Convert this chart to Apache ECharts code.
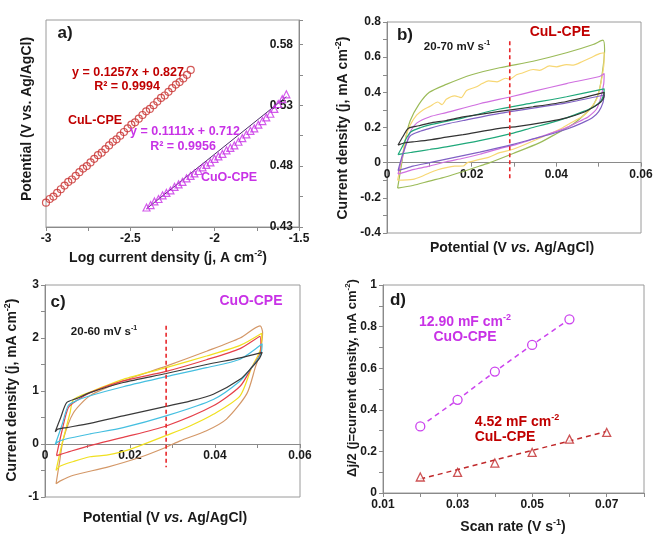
<!DOCTYPE html>
<html><head><meta charset="utf-8">
<script src="https://cdn.jsdelivr.net/npm/echarts@6/dist/echarts.min.js"></script>
<style>html,body{margin:0;padding:0;background:#fff}#c{width:669px;height:545px}</style>
</head><body><div id="c"></div>
<script>
// ---------- Panel a: Tafel plots ----------
const aCuLX = [-3.000,-2.978,-2.956,-2.934,-2.912,-2.890,-2.868,-2.846,-2.824,-2.802,-2.780,-2.758,-2.736,-2.714,-2.692,-2.670,-2.648,-2.626,-2.604,-2.582,-2.560,-2.538,-2.516,-2.494,-2.472,-2.450,-2.428,-2.406,-2.384,-2.362,-2.340,-2.318,-2.296,-2.274,-2.252,-2.230,-2.208,-2.186,-2.164,-2.142];
const aCuLY = [0.450,0.453,0.455,0.458,0.461,0.464,0.467,0.469,0.472,0.475,0.478,0.480,0.483,0.486,0.489,0.491,0.494,0.497,0.500,0.502,0.505,0.508,0.511,0.514,0.516,0.519,0.522,0.525,0.527,0.530,0.533,0.536,0.538,0.541,0.544,0.547,0.549,0.552,0.555,0.559];
const aCuOX = [-2.404,-2.380,-2.357,-2.333,-2.309,-2.286,-2.262,-2.238,-2.214,-2.191,-2.167,-2.143,-2.120,-2.096,-2.072,-2.049,-2.025,-2.001,-1.978,-1.954,-1.930,-1.907,-1.883,-1.859,-1.836,-1.812,-1.788,-1.765,-1.741,-1.717,-1.694,-1.670,-1.646,-1.623,-1.599,-1.575];
const aCuOY = [0.446,0.448,0.451,0.453,0.456,0.458,0.460,0.463,0.465,0.467,0.470,0.472,0.474,0.476,0.479,0.481,0.483,0.486,0.488,0.490,0.493,0.495,0.497,0.500,0.503,0.506,0.509,0.511,0.514,0.517,0.520,0.523,0.527,0.531,0.535,0.539];
const aCuOFitX = [-2.404,-1.575];
const aCuOFitY = [0.445,0.537];
const aXTicks = ['-3','-2.5','-2','-1.5'];
const aYTicks = ['0.43','0.48','0.53','0.58'];

// ---------- Panel b: CuL-CPE CV loops (20-70 mV/s) ----------
const bBlack = [[0.0026,0.10],[0.0038,0.15],[0.0050,0.195],[0.0075,0.21],[0.0101,0.225],[0.014,0.24],[0.018,0.26],[0.0266,0.292],[0.0345,0.318],[0.0424,0.348],[0.0513,0.40],[0.0512,0.37],[0.0505,0.345],[0.049,0.32],[0.0463,0.285],[0.0424,0.255],[0.0384,0.235],[0.0306,0.205],[0.0266,0.195],[0.018,0.16],[0.014,0.145],[0.0101,0.13],[0.0061,0.118],[0.004,0.112],[0.0026,0.10]];
const bTeal = [[0.0026,0.045],[0.0036,0.09],[0.0046,0.14],[0.0056,0.175],[0.0080,0.20],[0.0101,0.215],[0.014,0.235],[0.018,0.255],[0.0266,0.305],[0.0345,0.34],[0.0424,0.375],[0.0513,0.42],[0.0512,0.39],[0.0505,0.35],[0.049,0.32],[0.0463,0.29],[0.0424,0.255],[0.0384,0.225],[0.0345,0.20],[0.0293,0.165],[0.0219,0.125],[0.014,0.09],[0.0101,0.075],[0.0061,0.06],[0.0035,0.05],[0.0026,0.045]];
const bPurple = [[0.0026,-0.045],[0.0036,0.04],[0.0046,0.11],[0.0056,0.155],[0.008,0.18],[0.0101,0.195],[0.014,0.22],[0.018,0.24],[0.0266,0.28],[0.0345,0.31],[0.0424,0.34],[0.0513,0.385],[0.0510,0.34],[0.0500,0.29],[0.0485,0.255],[0.0460,0.225],[0.0424,0.19],[0.0384,0.16],[0.0345,0.135],[0.0298,0.104],[0.0219,0.06],[0.014,0.02],[0.0101,0.0],[0.0061,-0.02],[0.0040,-0.035],[0.0026,-0.045]];
const bPink = [[0.0026,-0.065],[0.0036,0.03],[0.0046,0.11],[0.0056,0.18],[0.0070,0.225],[0.010,0.26],[0.014,0.285],[0.0219,0.335],[0.0293,0.375],[0.0345,0.405],[0.0424,0.45],[0.0502,0.49],[0.0513,0.507],[0.0512,0.45],[0.0505,0.37],[0.0495,0.305],[0.0475,0.26],[0.0463,0.245],[0.042,0.195],[0.0384,0.165],[0.0306,0.104],[0.0266,0.08],[0.0219,0.048],[0.018,0.025],[0.014,0.005],[0.010,-0.02],[0.0061,-0.04],[0.004,-0.055],[0.0026,-0.065]];
const bYellow = [[0.0025,-0.10],[0.0035,0.02],[0.0045,0.15],[0.0055,0.215],[0.007,0.27],[0.0085,0.30],[0.0101,0.32],[0.012,0.345],[0.013,0.33],[0.014,0.36],[0.016,0.38],[0.0175,0.37],[0.0188,0.41],[0.021,0.43],[0.0225,0.45],[0.024,0.465],[0.026,0.46],[0.028,0.48],[0.029,0.475],[0.0306,0.50],[0.032,0.51],[0.0345,0.53],[0.036,0.525],[0.0384,0.55],[0.040,0.545],[0.0424,0.558],[0.044,0.555],[0.0463,0.577],[0.048,0.595],[0.0502,0.62],[0.0513,0.625],[0.0512,0.55],[0.0505,0.45],[0.0495,0.36],[0.0478,0.30],[0.0463,0.265],[0.0430,0.22],[0.0408,0.19],[0.0345,0.123],[0.0298,0.076],[0.0266,0.057],[0.024,0.03],[0.0219,0.019],[0.019,0.0],[0.018,-0.019],[0.016,-0.02],[0.014,-0.028],[0.012,-0.04],[0.0101,-0.057],[0.008,-0.08],[0.0061,-0.095],[0.0025,-0.10]];
const bOlive = [[0.0025,-0.145],[0.0035,0.0],[0.0045,0.15],[0.0055,0.24],[0.0075,0.33],[0.010,0.40],[0.014,0.445],[0.020,0.50],[0.0266,0.54],[0.0345,0.577],[0.0424,0.625],[0.0487,0.672],[0.051,0.697],[0.0514,0.64],[0.0508,0.50],[0.0500,0.40],[0.0488,0.33],[0.0471,0.284],[0.0440,0.22],[0.0400,0.165],[0.0361,0.114],[0.0298,0.052],[0.0243,0.0],[0.0219,-0.019],[0.018,-0.05],[0.014,-0.08],[0.010,-0.105],[0.0061,-0.13],[0.0025,-0.145]];
const bMarkerX = [0.029,0.029];
const bMarkerY = [0.69,-0.10];

// ---------- Panel c: CuO-CPE CV loops (20-60 mV/s) ----------
const cBlack = [[0.0024,0.23],[0.0037,0.50],[0.0051,0.78],[0.0075,0.86],[0.0106,0.97],[0.0184,1.16],[0.0285,1.33],[0.038,1.50],[0.0459,1.625],[0.0511,1.73],[0.0505,1.62],[0.0486,1.44],[0.0459,1.22],[0.0396,0.94],[0.0341,0.81],[0.0285,0.71],[0.0184,0.53],[0.0106,0.39],[0.0051,0.31],[0.0030,0.28],[0.0024,0.23]];
const cCyan = [[0.0024,-0.01],[0.0040,0.36],[0.0055,0.73],[0.0075,0.82],[0.0106,0.91],[0.0184,1.08],[0.0285,1.27],[0.038,1.44],[0.0459,1.60],[0.0511,1.89],[0.0508,1.70],[0.0486,1.44],[0.0459,1.19],[0.0396,0.84],[0.0285,0.53],[0.0184,0.31],[0.0106,0.19],[0.0047,0.09],[0.0030,0.04],[0.0024,-0.01]];
const cRed = [[0.0027,-0.22],[0.0040,0.25],[0.0055,0.69],[0.0075,0.82],[0.0106,0.97],[0.0184,1.19],[0.0285,1.37],[0.038,1.59],[0.0459,1.80],[0.0506,2.03],[0.0508,1.75],[0.0486,1.44],[0.0459,1.09],[0.0396,0.72],[0.0285,0.34],[0.0184,0.125],[0.0106,-0.03],[0.0051,-0.16],[0.0035,-0.20],[0.0027,-0.22]];
const cYellow = [[0.0026,-0.50],[0.0040,0.0],[0.0059,0.59],[0.0067,0.84],[0.0106,0.98],[0.0184,1.22],[0.0285,1.44],[0.038,1.66],[0.0459,1.86],[0.051,2.09],[0.0508,1.80],[0.0486,1.44],[0.0459,0.91],[0.0396,0.56],[0.0341,0.34],[0.0285,0.16],[0.0224,-0.03],[0.018,-0.15],[0.0145,-0.21],[0.0106,-0.24],[0.0067,-0.33],[0.0035,-0.42],[0.0026,-0.50]];
const cTan = [[0.0026,-0.75],[0.0035,-0.30],[0.0043,0.09],[0.0067,0.59],[0.0106,0.91],[0.0184,1.19],[0.0285,1.47],[0.038,1.75],[0.0459,2.0],[0.0506,2.23],[0.0512,2.1],[0.0505,1.7],[0.0495,1.45],[0.0475,0.95],[0.0427,0.47],[0.038,0.25],[0.0318,0.06],[0.0285,-0.06],[0.0224,-0.25],[0.0145,-0.44],[0.0067,-0.59],[0.0035,-0.70],[0.0026,-0.75]];
const cMarkerX = [0.0285,0.0285];
const cMarkerY = [2.23,-0.44];

// ---------- Panel d: double-layer capacitance ----------
const dScan = [0.02,0.03,0.04,0.05,0.06,0.07];
const dCuO = [0.32,0.448,0.584,0.712,0.835];
const dCuL = [0.077,0.099,0.144,0.195,0.259,0.291];
const dCuLFitX = [0.02,0.07];
const dCuLFitY = [0.067,0.296];

// ---------- helpers ----------
const FONT = 'Liberation Sans, Arial, sans-serif';
const MAG = '#c832e6', DRED = '#c00000';
const zip = (xs, ys) => xs.map((x, i) => [x, ys[i]]);
const near = (v, step, base) => { const k = (v - base) / step; return Math.abs(k - Math.round(k)) < 1e-6; };

function axis(extra) {
  const base = {
    type: 'value',
    axisLine: { show: true, onZero: false, lineStyle: { color: '#8a8a8a', width: 1 } },
    axisTick: { show: true, length: 4, lineStyle: { color: '#8a8a8a' } },
    splitLine: { show: false },
    axisLabel: { color: '#1a1a1a', fontWeight: 'bold', fontSize: 12, fontFamily: FONT, margin: 6 }
  };
  const o = Object.assign({}, base, extra);
  o.axisLabel = Object.assign({}, base.axisLabel, extra.axisLabel || {});
  return o;
}

const grids = [
  { left: 46, top: 20, width: 253, height: 207 },
  { left: 387, top: 22, width: 254, height: 211 },
  { left: 45, top: 285, width: 255, height: 212 },
  { left: 383, top: 285, width: 261, height: 208 }
].map(g => Object.assign(g, { show: true, borderColor: '#9a9a9a', borderWidth: 1, backgroundColor: 'transparent' }));

const xAxes = [
  axis({ gridIndex: 0, min: -3, max: -1.5, interval: 0.25,
    axisLabel: { formatter: v => { const s = aXTicks.find(t => Math.abs(parseFloat(t) - v) < 1e-6); return s || ''; } } }),
  axis({ gridIndex: 1, min: 0, max: 0.06, interval: 0.01, offset: -70.33,
    axisLabel: { formatter: v => near(v, 0.02, 0) ? (Math.abs(v) < 1e-9 ? '0' : v.toFixed(2)) : '' } }),
  axis({ gridIndex: 2, min: 0, max: 0.06, interval: 0.01, offset: -53,
    axisLabel: { formatter: v => near(v, 0.02, 0) ? (Math.abs(v) < 1e-9 ? '0' : v.toFixed(2)) : '' } }),
  axis({ gridIndex: 3, min: 0.01, max: 0.08, interval: 0.01,
    axisLabel: { formatter: v => (near(v, 0.02, 0.01) && v < 0.075) ? v.toFixed(2) : '' } })
];
const yAxes = [
  axis({ gridIndex: 0, position: 'right', min: 0.43, max: 0.60, interval: 0.025,
    axisLabel: { inside: true, margin: 6, formatter: v => { const s = aYTicks.find(t => Math.abs(parseFloat(t) - v) < 1e-6); return s || ''; } } }),
  axis({ gridIndex: 1, min: -0.4, max: 0.8, interval: 0.1,
    axisLabel: { formatter: v => near(v, 0.2, 0) ? (Math.abs(v) < 1e-9 ? '0' : v.toFixed(1)) : '' } }),
  axis({ gridIndex: 2, min: -1, max: 3, interval: 0.5,
    axisLabel: { formatter: v => near(v, 1, 0) ? String(Math.round(v)) : '' } }),
  axis({ gridIndex: 3, min: 0, max: 1, interval: 0.1,
    axisLabel: { formatter: v => near(v, 0.2, 0) ? (Math.abs(v) < 1e-9 ? '0' : (Math.abs(v - 1) < 1e-9 ? '1' : v.toFixed(1))) : '' } })
];

function loop(data, color, gi) {
  return { type: 'line', xAxisIndex: gi, yAxisIndex: gi, data: data, showSymbol: false, smooth: 0.25,
    lineStyle: { color: color, width: 1.2 }, itemStyle: { color: color }, silent: true, z: 3 };
}
function dashV(xs, ys, gi) {
  return { type: 'line', xAxisIndex: gi, yAxisIndex: gi, data: zip(xs, ys), showSymbol: false,
    lineStyle: { color: '#e8262a', width: 1.6, type: [4, 3] }, silent: true, z: 5 };
}

const series = [
  // panel a
  { type: 'scatter', xAxisIndex: 0, yAxisIndex: 0, data: zip(aCuLX, aCuLY), symbol: 'circle', symbolSize: 7,
    itemStyle: { color: 'rgba(0,0,0,0)', borderColor: '#c8302e', borderWidth: 1.2 }, z: 3 },
  { type: 'line', xAxisIndex: 0, yAxisIndex: 0, data: zip(aCuOFitX, aCuOFitY), showSymbol: false,
    lineStyle: { color: '#4a2a6a', width: 1 }, z: 2 },
  { type: 'scatter', xAxisIndex: 0, yAxisIndex: 0, data: zip(aCuOX, aCuOY), symbol: 'triangle', symbolSize: 7,
    itemStyle: { color: 'rgba(0,0,0,0)', borderColor: '#c832e6', borderWidth: 1.2 }, z: 3 },
  // panel b
  loop(bOlive, '#9bbb59', 1), loop(bYellow, '#f7d774', 1), loop(bPink, '#d070e0', 1),
  loop(bTeal, '#1fa87a', 1), loop(bPurple, '#8061c4', 1), loop(bBlack, '#333333', 1),
  dashV(bMarkerX, bMarkerY, 1),
  // panel c
  loop(cTan, '#d49868', 2), loop(cYellow, '#f0e020', 2), loop(cRed, '#e5404a', 2),
  loop(cCyan, '#45bfe0', 2), loop(cBlack, '#3a3a3a', 2),
  dashV(cMarkerX, cMarkerY, 2),
  // panel d
  { type: 'line', xAxisIndex: 3, yAxisIndex: 3, data: zip(dScan.slice(0, dCuO.length), dCuO), symbol: 'circle', symbolSize: 9,
    lineStyle: { color: '#cc44ee', width: 1.5, type: [5, 4] },
    itemStyle: { color: '#fff', borderColor: '#cc44ee', borderWidth: 1.3 }, z: 3 },
  { type: 'line', xAxisIndex: 3, yAxisIndex: 3, data: zip(dCuLFitX, dCuLFitY), showSymbol: false,
    lineStyle: { color: '#c0282a', width: 1.5, type: [5, 4] }, z: 2 },
  { type: 'scatter', xAxisIndex: 3, yAxisIndex: 3, data: zip(dScan, dCuL), symbol: 'triangle', symbolSize: 8,
    itemStyle: { color: '#fff', borderColor: '#c0282a', borderWidth: 1.3 }, z: 3 }
];

// ---------- texts ----------
function rich(size, color) {
  return {
    n: { fontSize: size, fontWeight: 'bold', fontFamily: FONT, fill: color, lineHeight: size + 4 },
    i: { fontSize: size, fontWeight: 'bold', fontStyle: 'italic', fontFamily: FONT, fill: color, lineHeight: size + 4 },
    s: { fontSize: Math.round(size * 0.62), fontWeight: 'bold', fontFamily: FONT, fill: color, verticalAlign: 'top', lineHeight: size + 4 }
  };
}
function T(x, y, text, size, color, rot) {
  return { type: 'text', x: x, y: y, rotation: rot ? Math.PI / 2 : 0, z: 100,
    style: { text: text, align: 'center', verticalAlign: 'middle', rich: rich(size, color), fill: color } };
}
const K = '#1a1a1a';
const TS = 14;
const graphics = [
  // panel a
  T(65, 33, '{n|a)}', 17, K),
  T(168, 258, '{n|Log current density (j, A cm}{s|-2}{n|)}', TS, K),
  T(27, 119, '{n|Potential (V vs. Ag/AgCl)}', TS, K, true),
  T(128, 73, '{n|y = 0.1257x + 0.827}', 12.5, DRED),
  T(127, 87, '{n|R² = 0.9994}', 12.5, DRED),
  T(95, 121, '{n|CuL-CPE}', 12.5, DRED),
  T(185, 132, '{n|y = 0.1111x + 0.712}', 12.5, MAG),
  T(183, 147, '{n|R² = 0.9956}', 12.5, MAG),
  T(229, 178, '{n|CuO-CPE}', 12.5, MAG),
  // panel b
  T(405, 35, '{n|b)}', 17, K),
  T(457, 47, '{n|20-70 mV s}{s|-1}', 11.5, K),
  T(560, 32, '{n|CuL-CPE}', 14, DRED),
  T(343, 128, '{n|Current density (j, mA cm}{s|-2}{n|)}', TS, K, true),
  T(512, 248, '{n|Potential (V }{i|vs.}{n| Ag/AgCl)}', TS, K),
  // panel c
  T(58, 302, '{n|c)}', 17, K),
  T(104, 332, '{n|20-60 mV s}{s|-1}', 11.5, K),
  T(251, 301, '{n|CuO-CPE}', 14, MAG),
  T(12, 390, '{n|Current density (j, mA cm}{s|-2}{n|)}', TS, K, true),
  T(165, 518, '{n|Potential (V }{i|vs.}{n| Ag/AgCl)}', TS, K),
  // panel d
  T(398, 300, '{n|d)}', 17, K),
  T(465, 322, '{n|12.90 mF cm}{s|-2}', 14, MAG),
  T(465, 337, '{n|CuO-CPE}', 14, MAG),
  T(517, 422, '{n|4.52 mF cm}{s|-2}', 14, DRED),
  T(505, 437, '{n|CuL-CPE}', 14, DRED),
  T(352, 378, '{n|Δj/2 (j=current density, mA cm}{s|-2}{n|)}', 13, K, true),
  T(513, 527, '{n|Scan rate (V s}{s|-1}{n|)}', TS, K)
];

const chart = echarts.init(document.getElementById('c'), null, { renderer: 'canvas' });
chart.setOption({
  animation: false,
  backgroundColor: '#ffffff',
  grid: grids,
  xAxis: xAxes,
  yAxis: yAxes,
  series: series,
  graphic: graphics
});
</script></body></html>
